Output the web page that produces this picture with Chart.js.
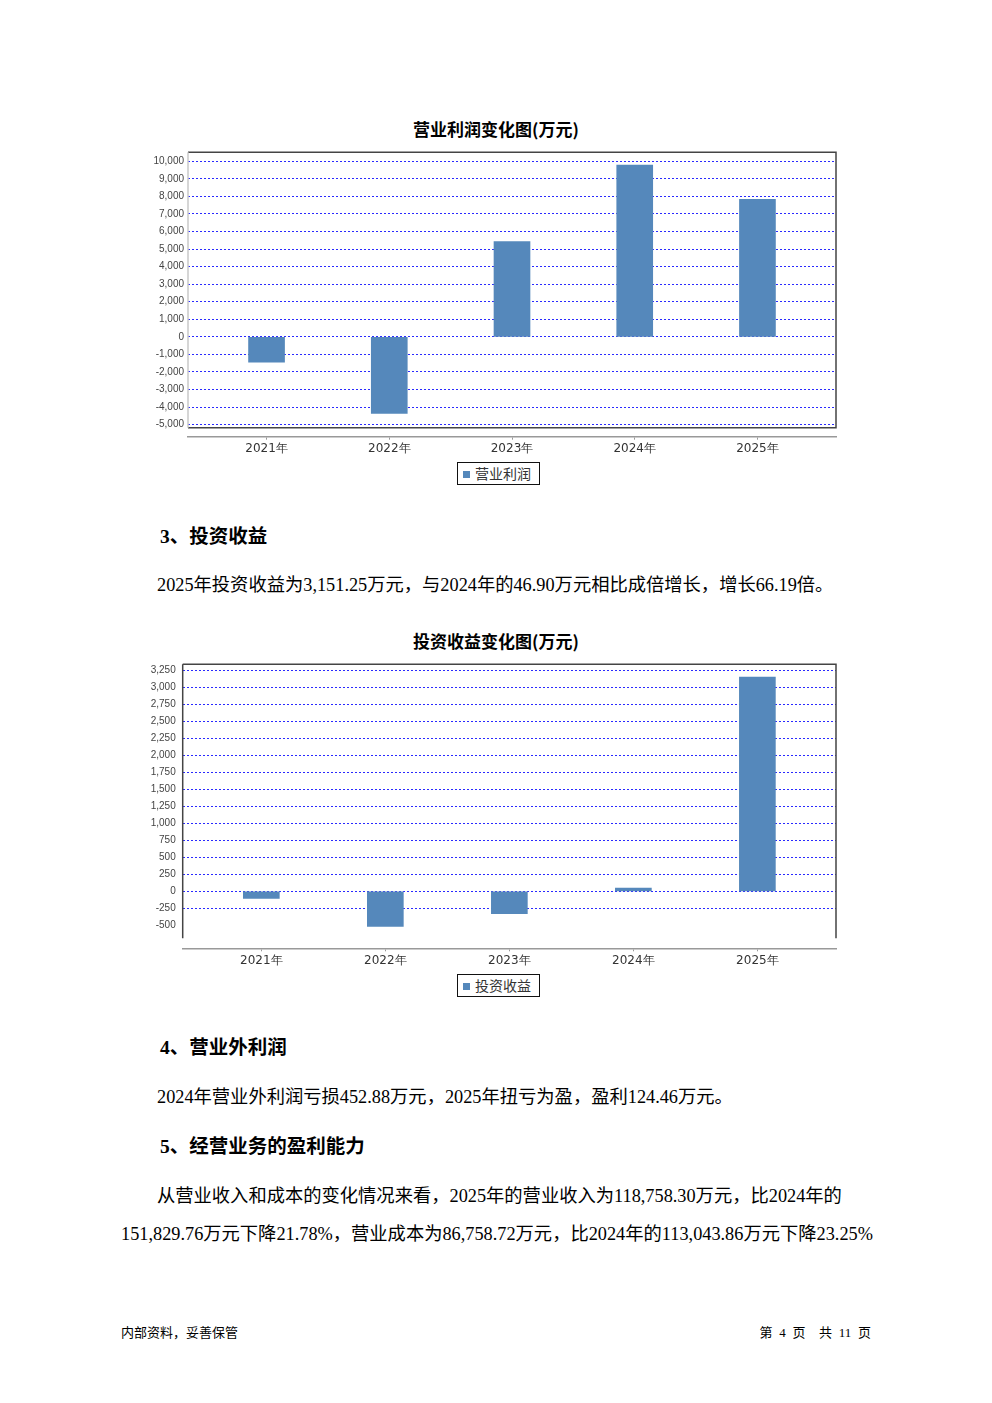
<!DOCTYPE html>
<html>
<head>
<meta charset="utf-8">
<script src="https://cdn.jsdelivr.net/npm/chart.js@4.4.1/dist/chart.umd.min.js"></script>
<style>
  body { margin: 0; background: #fff; }
  #page { position: relative; width: 992px; height: 1403px; overflow: hidden;
          font-family: "Liberation Serif", "Noto Sans CJK SC", serif; color: #000; }
  .t { position: absolute; white-space: nowrap; line-height: 24px; }
  .h { font-weight: bold; font-size: 19.5px; }
  .p { font-size: 18.3px; }
  .foot { font-size: 13px; word-spacing: 3.5px; }
  .ctitle { position: absolute; left: 0; width: 992px; text-align: center; line-height: 24px;
            font: bold 17px "Noto Sans CJK SC"; color: #000; }
  canvas { position: absolute; }
  .legend { position: absolute; box-sizing: border-box; width: 83px; height: 23px;
            border: 1.5px solid #111; font: 14px "Noto Sans CJK SC"; color: #333;
            line-height: 20px; white-space: nowrap; }
  .legend i { display: inline-block; width: 7px; height: 7px; background: #5588bb;
              margin: 0 5px 0 5px; vertical-align: 1px; }
</style>
</head>
<body>
<div id="page">
  <div class="ctitle" style="top:115.5px">营业利润变化图(万元)</div>
  <canvas id="profitChart" width="720" height="347" style="left:120px;top:110px"></canvas>
  <div class="legend" style="left:457px;top:462px"><i></i>营业利润</div>

  <div class="t h" style="left:160px;top:525px">3、投资收益</div>
  <div class="t p" style="left:157px;top:573px">2025年投资收益为3,151.25万元，与2024年的46.90万元相比成倍增长，增长66.19倍。</div>

  <div class="ctitle" style="top:627.5px">投资收益变化图(万元)</div>
  <canvas id="investChart" width="720" height="349" style="left:120px;top:620px"></canvas>
  <div class="legend" style="left:457px;top:974px"><i></i>投资收益</div>

  <div class="t h" style="left:160px;top:1036px">4、营业外利润</div>
  <div class="t p" style="left:157px;top:1085px">2024年营业外利润亏损452.88万元，2025年扭亏为盈，盈利124.46万元。</div>

  <div class="t h" style="left:160px;top:1135px">5、经营业务的盈利能力</div>
  <div class="t p" style="left:157px;top:1184px">从营业收入和成本的变化情况来看，2025年的营业收入为118,758.30万元，比2024年的</div>
  <div class="t p" style="left:121px;top:1222px">151,829.76万元下降21.78%，营业成本为86,758.72万元，比2024年的113,043.86万元下降23.25%</div>

  <div class="t foot" style="left:121px;top:1321px">内部资料，妥善保管</div>
  <div class="t foot" style="right:121px;top:1321px">第 4 页 &nbsp;共 11 页</div>
</div>

<script>
const years = ['2021年', '2022年', '2023年', '2024年', '2025年'];
const profitValues = [-1440, -4360, 5430, 9790, 7840];
const investValues = [-105, -515, -330, 46.90, 3151.25];
const profitTicks = [-5000, -4000, -3000, -2000, -1000, 0, 1000, 2000, 3000, 4000, 5000, 6000, 7000, 8000, 9000, 10000];
const investTicks = [-500, -250, 0, 250, 500, 750, 1000, 1250, 1500, 1750, 2000, 2250, 2500, 2750, 3000, 3250];

const barColor = '#5588bb';

// box around the plot, with the x axis line sitting a little below it
const framePlugin = {
  id: 'frame',
  afterDraw(chart, args, opts) {
    const { ctx, chartArea: a } = chart;
    const bottom = a.bottom - opts.gap;
    ctx.save();
    ctx.lineWidth = 1.5;
    ctx.strokeStyle = '#444';
    ctx.beginPath();
    ctx.moveTo(a.left, a.top);
    ctx.lineTo(a.right, a.top);
    ctx.lineTo(a.right, bottom);
    if (opts.drawBottom) ctx.lineTo(a.left, bottom);
    ctx.stroke();
    ctx.strokeStyle = opts.leftColor;
    ctx.beginPath();
    ctx.moveTo(a.left, a.top);
    ctx.lineTo(a.left, bottom);
    ctx.stroke();
    ctx.restore();
  }
};

function makeChart(id, label, values, ticks, cfg) {
  return new Chart(document.getElementById(id), {
    type: 'bar',
    data: {
      datasets: [{
        label: label,
        data: values.map((v, i) => ({ x: i, y: v })),
        backgroundColor: barColor,
        borderWidth: 0,
        barThickness: 36
      }]
    },
    options: {
      responsive: false,
      animation: false,
      layout: { padding: { left: 0, right: 4, top: cfg.top, bottom: 0 } },
      plugins: {
        legend: { display: false },
        tooltip: { enabled: false },
        frame: { gap: cfg.gap, drawBottom: cfg.drawBottom, leftColor: cfg.leftColor }
      },
      scales: {
        x: {
          type: 'linear',
          offset: false,
          min: -0.5 - cfg.margin,
          max: 4.5 + cfg.margin,
          afterBuildTicks: s => { s.ticks = years.map((y, i) => ({ value: i })); },
          afterFit: s => { s.height = cfg.xHeight; },
          grid: { offset: false, drawOnChartArea: false, drawTicks: true, tickLength: 3, color: '#999' },
          border: { display: true, color: '#999', width: 1.5 },
          ticks: {
            autoSkip: false,
            maxRotation: 0,
            padding: 2,
            color: '#333',
            font: { family: 'DejaVu Sans', size: 12 },
            callback: v => years[v]
          }
        },
        y: {
          min: cfg.min,
          max: cfg.max,
          afterBuildTicks: s => { s.ticks = ticks.map(v => ({ value: v })); },
          afterFit: s => { s.width = cfg.yWidth; },
          grid: {
            drawTicks: false,
            lineWidth: 1,
            color: c => (cfg.noGrid.includes(c.tick.value) ? 'rgba(0,0,0,0)' : '#2a2aff')
          },
          border: { display: false, dash: [2, 2] },
          ticks: {
            padding: cfg.tickPad,
            color: '#444',
            font: { family: 'Liberation Sans', size: 10 },
            callback: v => v.toLocaleString('en-US')
          }
        }
      }
    },
    plugins: [framePlugin]
  });
}

makeChart('profitChart', '营业利润', profitValues, profitTicks, {
  top: 42.3,
  min: -5692, max: 10513,
  margin: 0.14,
  yWidth: 68, tickPad: 4, xHeight: 20.3,
  gap: 9, drawBottom: true, leftColor: '#c8c8c8',
  noGrid: []
});

makeChart('investChart', '投资收益', investValues, investTicks, {
  top: 44.3,
  min: -838, max: 3338,
  margin: 0.134,
  yWidth: 62.7, tickPad: 7, xHeight: 20.7,
  gap: 10, drawBottom: false, leftColor: '#444',
  noGrid: [-500]
});
</script>
</body>
</html>
